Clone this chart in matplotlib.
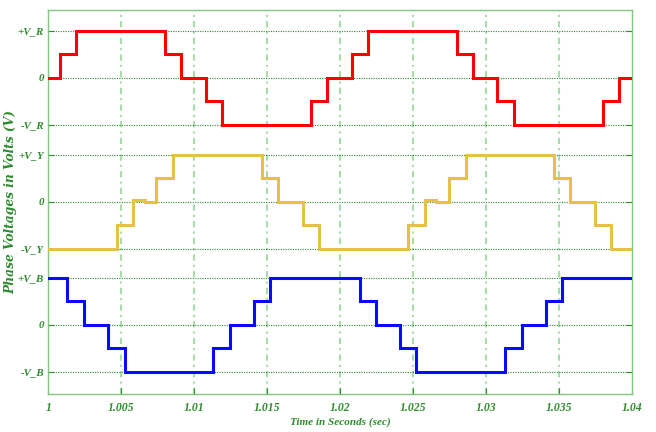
import matplotlib
matplotlib.use("Agg")
import matplotlib.pyplot as plt
import numpy as np

# ---- data (times in ms after t = 1 s, levels in per-unit) ----
r_times = [0.0, 0.78, 1.88, 8.0, 9.1, 10.78, 11.88, 18.0, 19.1,
           20.8, 21.92, 28.0, 29.1, 30.78, 31.88, 38.0, 39.1, 40.0]
r_levels = [0, 0.5, 1, 0.5, 0, -0.5, -1, -0.5, 0,
            0.5, 1, 0.5, 0, -0.5, -1, -0.5, 0, 0]

y_times = [0.0, 4.70, 5.80, 6.62, 7.40, 8.54, 14.64, 15.76, 17.45, 18.55,
           24.67, 25.81, 26.59, 27.46, 28.60, 34.68, 35.78, 37.46, 38.59, 40.0]
y_levels = [-1, -0.5, 0.04, 0, 0.5, 1, 0.5, 0, -0.5, -1,
            -0.5, 0.04, 0, 0.5, 1, 0.5, 0, -0.5, -1, -1]

b_times = [0.0, 1.28, 2.44, 4.09, 5.23, 11.28, 12.43, 14.07, 15.21,
           21.34, 22.43, 24.12, 25.22, 31.32, 32.44, 34.13, 35.23, 40.0]
b_levels = [1, 0.5, 0, -0.5, -1, -0.5, 0, 0.5, 1,
            0.5, 0, -0.5, -1, -0.5, 0, 0.5, 1, 1]

offsets = {"R": 0.0, "Y": -2.65, "B": -5.28}
colors = {"R": "#FF0000", "Y": "#E5C247", "B": "#0A0AFF"}

x_ticks = [1.0, 1.005, 1.01, 1.015, 1.02, 1.025, 1.03, 1.035, 1.04]
x_tick_labels = ["1", "1.005", "1.01", "1.015", "1.02", "1.025", "1.03", "1.035", "1.04"]
y_tick_labels = ["-V_B", "0", "+V_B", "-V_Y", "0", "+V_Y", "-V_R", "0", "+V_R"]

# ---- figure ----
fig = plt.figure(figsize=(6.56, 4.32), dpi=100)
ax = fig.add_axes([0.0735, 0.088, 0.89, 0.889])

green_dark = "#2E8B2E"
green_light = "#A8DCA8"

for key, times, levels in [("R", r_times, r_levels),
                           ("Y", y_times, y_levels),
                           ("B", b_times, b_levels)]:
    t = 1.0 + np.array(times) / 1000.0
    v = np.array(levels) + offsets[key]
    ax.step(t, v, where="post", color=colors[key], lw=2.2, solid_joinstyle="miter", zorder=3)

ax.set_xlim(1.0, 1.04)
ax.set_ylim(-6.76, 1.45)

yt = []
for key in ["B", "Y", "R"]:
    o = offsets[key]
    yt += [o - 1, o, o + 1]
ax.set_yticks(yt)
ax.set_yticklabels(y_tick_labels)
ax.set_xticks(x_ticks)
ax.set_xticklabels(x_tick_labels)

# grid
for xv in x_ticks[1:-1]:
    ax.axvline(xv, color=green_light, lw=1.5, ls=(0, (3, 2, 1, 2)), zorder=1)
for yv in yt:
    ax.axhline(yv, color=green_dark, lw=0.8, ls=(0, (1, 1.2)), zorder=1)

for s in ax.spines.values():
    s.set_color("#7FC97F")
    s.set_linewidth(1.0)

ax.tick_params(axis="both", direction="in", length=4, color=green_dark,
               labelcolor=green_dark, top=False, right=True)
ax.tick_params(axis="x", pad=6)
ax.tick_params(axis="y", pad=3)
for lab in ax.get_xticklabels():
    lab.set_fontfamily("Liberation Serif")
    lab.set_fontweight("bold")
    lab.set_fontstyle("italic")
    lab.set_fontsize(8.5)
for lab in ax.get_yticklabels():
    lab.set_fontfamily("Liberation Serif")
    lab.set_fontweight("bold")
    lab.set_fontstyle("italic")
    lab.set_fontsize(7.8)

fig.text(340 / 656, 1 - 422 / 432, "Time in Seconds (sec)", color=green_dark,
         fontsize=8, family="Liberation Serif", weight="bold", style="italic",
         ha="center", va="center")
fig.text(11 / 656, 1 - 202 / 432, "Phase Voltages in Volts (V)", color=green_dark,
         fontsize=8.8, family="DejaVu Serif", weight="bold", style="italic",
         ha="center", va="center", rotation=90)

fig.savefig("out.png", dpi=100, facecolor="white")
